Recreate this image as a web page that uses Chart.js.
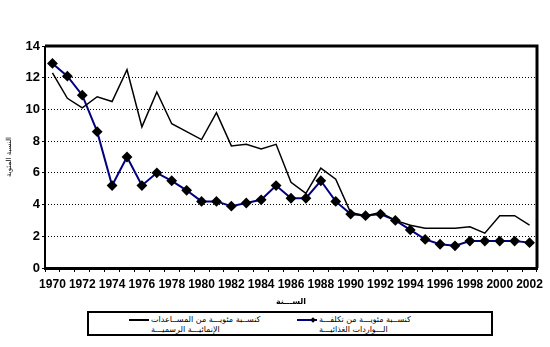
<!DOCTYPE html>
<html lang="ar">
<head>
<meta charset="utf-8">
<script src="https://cdn.jsdelivr.net/npm/chart.js@4/dist/chart.umd.min.js"></script>
<style>
  html, body { margin: 0; padding: 0; background: #fff; }
  #wrap { position: relative; width: 550px; height: 347px; }
  #grafico { display: block; }
  #leyenda {
    position: absolute; left: 87px; top: 311px; width: 402px; height: 21px;
    border: 2px solid #000; background: #fff;
    font-family: "DejaVu Sans", sans-serif; font-size: 8px; color: #000;
  }
  .item { position: absolute; top: 2px; display: flex; align-items: flex-start; }
  .item svg { margin-top: 1px; margin-right: 2px; }
  .item div { direction: rtl; text-align: left; line-height: 10px; white-space: nowrap; }
</style>
</head>
<body>
<div id="wrap">
  <canvas id="grafico" width="550" height="347"></canvas>
  <div id="leyenda"></div>
</div>
<script>
const anios = [
  "1970", "1971", "1972", "1973", "1974", "1975", "1976", "1977", "1978", "1979",
  "1980", "1981", "1982", "1983", "1984", "1985", "1986", "1987", "1988", "1989",
  "1990", "1991", "1992", "1993", "1994", "1995", "1996", "1997", "1998", "1999",
  "2000", "2001", "2002",
];

// كنسبة مئوية من المساعدات الإنمائية الرسمية
const pctAyuda = [
  12.3, 10.7, 10.1, 10.8, 10.5, 12.5, 8.9, 11.1, 9.1, 8.6,
  8.1, 9.8, 7.7, 7.8, 7.5, 7.8, 5.4, 4.7, 6.3, 5.6,
  3.5, 3.3, 3.5, 3.0, 2.7, 2.5, 2.5, 2.5, 2.6, 2.2,
  3.3, 3.3, 2.7,
];

// كنسبة مئوية من تكلفة الواردات الغذائية
const pctImportaciones = [
  12.9, 12.1, 10.9, 8.6, 5.2, 7.0, 5.2, 6.0, 5.5, 4.9,
  4.2, 4.2, 3.9, 4.1, 4.3, 5.2, 4.4, 4.4, 5.5, 4.2,
  3.4, 3.3, 3.4, 3.0, 2.4, 1.8, 1.5, 1.4, 1.7, 1.7,
  1.7, 1.7, 1.6,
];

const etiquetasY = [0, 2, 4, 6, 8, 10, 12, 14];

const series = [
  {
    label: ["كنســبة مئويـــة من المســاعدات", "الإنمائيـــة الرسميـــة"],
    data: pctAyuda,
    borderColor: "#000000",
    borderWidth: 1.5,
    pointRadius: 0,
    marker: false,
  },
  {
    label: ["كنســبة مئويـــة من تكلفـــة", "الـــواردات الغذائيـــة"],
    data: pctImportaciones,
    borderColor: "#000080",
    borderWidth: 2,
    pointStyle: "rectRot",
    pointRadius: 4,
    pointBackgroundColor: "#000000",
    pointBorderColor: "#000000",
    marker: true,
  },
];

// marco: lineas de ejes y bordes superior/derecho del area de trazado
const marco = {
  id: "marco",
  afterDraw(chart) {
    const { ctx, chartArea: a } = chart;
    ctx.save();
    ctx.strokeStyle = "#000";
    ctx.setLineDash([]);
    ctx.lineWidth = 3;
    ctx.beginPath();
    ctx.moveTo(a.left, a.top);
    ctx.lineTo(a.right, a.top);
    ctx.lineTo(a.right, a.bottom);
    ctx.stroke();
    ctx.lineWidth = 2;
    ctx.beginPath();
    ctx.moveTo(a.left, a.top);
    ctx.lineTo(a.left, a.bottom);
    ctx.stroke();
    ctx.restore();
  },
};

const grafico = new Chart(document.getElementById("grafico"), {
  type: "line",
  data: {
    labels: anios,
    datasets: series.map((s) => ({
      label: s.label.join(" "),
      data: s.data,
      borderColor: s.borderColor,
      borderWidth: s.borderWidth,
      pointStyle: s.pointStyle,
      pointRadius: s.pointRadius,
      pointBackgroundColor: s.pointBackgroundColor,
      pointBorderColor: s.pointBorderColor,
      tension: 0,
      fill: false,
    })),
  },
  plugins: [marco],
  options: {
    responsive: false,
    animation: false,
    layout: { padding: { top: 46, right: 13, bottom: 40, left: 5 } },
    plugins: {
      legend: { display: false },
      tooltip: { enabled: false },
    },
    scales: {
      x: {
        offset: true,
        afterFit: (s) => { s.height = 39; },
        grid: {
          offset: true,
          drawOnChartArea: false,
          drawTicks: true,
          tickLength: 4,
          color: "#000",
        },
        border: { color: "#000", width: 3 },
        ticks: {
          autoSkip: false,
          maxRotation: 0,
          padding: 5,
          color: "#000",
          font: { family: "Liberation Sans", size: 12, weight: "bold" },
          callback: (v, i) => (i % 2 === 0 ? anios[i] : ""),
        },
        title: {
          display: true,
          text: "الســـنة",
          color: "#000",
          padding: { top: 2, bottom: 0 },
          font: { family: "DejaVu Sans", size: 8, weight: "bold" },
        },
      },
      y: {
        min: 0,
        max: 14,
        afterFit: (s) => { s.width = 40; },
        afterBuildTicks: (s) => { s.ticks = etiquetasY.map((v) => ({ value: v })); },
        grid: {
          color: (c) => (c.tick.value === 0 || c.tick.value === 14 ? "rgba(0,0,0,0)" : "#000"),
          lineWidth: 1,
          drawTicks: true,
          tickLength: 3,
          tickColor: "#000",
          tickBorderDash: [],
        },
        border: { display: false, dash: [1, 2] },
        ticks: {
          padding: 2,
          color: "#000",
          font: { family: "Liberation Sans", size: 13, weight: "bold" },
        },
        title: {
          display: true,
          text: "النسبة المئوية",
          color: "#000",
          padding: { top: 0, bottom: 0 },
          font: { family: "DejaVu Sans", size: 7 },
        },
      },
    },
  },
});

// leyenda con los colores de cada serie
const $leyenda = document.getElementById("leyenda");
const posiciones = [{ left: 40 }, { left: 208 }];
series.forEach((s, i) => {
  const item = document.createElement("div");
  item.className = "item";
  item.style.left = posiciones[i].left + "px";
  const marca = s.marker
    ? `<rect x="14" y="2" width="4" height="4" fill="#000" transform="rotate(45 16 4)"/>`
    : "";
  item.innerHTML = `<svg width="20" height="8">
      <line x1="0" y1="4" x2="20" y2="4" stroke="${s.borderColor}" stroke-width="2"/>${marca}
    </svg><div>${s.label.join("<br>")}</div>`;
  $leyenda.appendChild(item);
});
</script>
</body>
</html>
